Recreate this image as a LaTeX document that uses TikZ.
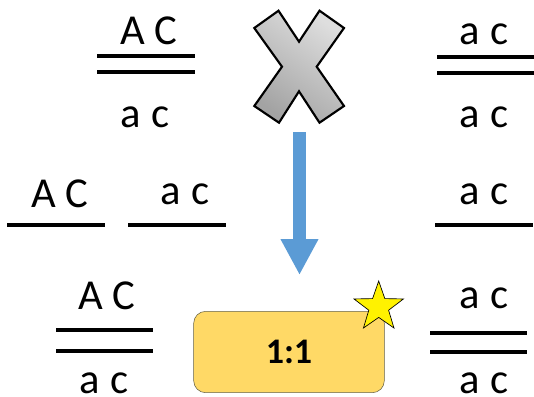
\documentclass[tikz,border=0pt]{standalone}
\usepackage{fontspec}
\setmainfont{Carlito}
\usetikzlibrary{arrows.meta,shapes.geometric}
\definecolor{lightgray}{HTML}{DEDEDE}
\definecolor{darkgray}{HTML}{A3A3A3}
\definecolor{arrowblue}{HTML}{5B9BD5}
\definecolor{boxyellow}{HTML}{FFD966}

\begin{document}
\begin{tikzpicture}[
    x=0.75pt, y=-0.75pt,
    allele/.style={inner sep=0pt, font=\fontsize{32}{32}\selectfont},
    bar/.style={line width=2.8pt, color=black},
    cross/.style={draw=black, line width=1.6pt, line join=miter, top color=lightgray,
                  bottom color=darkgray, shading angle=-35},
    result/.style={rectangle, rounded corners=9pt, draw=black!70!yellow, fill=boxyellow,
                   minimum width=143pt, minimum height=61pt, inner sep=0pt,
                   font=\fontsize{27}{27}\selectfont\bfseries},
    arr/.style={-{Triangle[length=27pt, width=26.5pt]}, line width=9.5pt, color=arrowblue}
  ]
    \useasboundingbox (0,0) rectangle (534,396);

    % top row
    \node[allele] (topA)  at (149,31)  {A C};
    \node[allele] (topa)  at (145,117) {a c};
    \node[allele] (topb)  at (484,34)  {a c};
    \node[allele] (topc)  at (484,117) {a c};
    \draw[bar] (97,56) -- (195,56);
    \draw[bar] (97,72) -- (195,72);
    \draw[bar] (437,57) -- (534,57);
    \draw[bar] (437,73) -- (534,73);

    % cross sign
    \path[cross] (278.5,10.7) -- (299,41.7) -- (319.5,10.7) -- (344,28) -- (316.7,66.7)
      -- (344,106) -- (319.5,122.7) -- (299,91.3) -- (279,122.7) -- (254.3,106)
      -- (282,66.7) -- (254.3,28) -- cycle;

    % middle row
    \node[allele] (midA) at (60,194)  {A C};
    \node[allele] (mida) at (185,194) {a c};
    \node[allele] (midb) at (484,194) {a c};
    \draw[bar] (7,225) -- (105,225);
    \draw[bar] (128,225) -- (226,225);
    \draw[bar] (435,225) -- (533,225);

    % arrow
    \coordinate (from) at (299.5,132);
    \coordinate (to) at (299.5,275);
    \draw[arr] (from) -- (to);

    % bottom row
    \node[allele] (botA) at (107,296) {A C};
    \node[allele] (bota) at (104,383) {a c};
    \node[allele] (botb) at (484,298) {a c};
    \node[allele] (botc) at (484,383) {a c};
    \draw[bar] (56,330) -- (153,330);
    \draw[bar] (56,351) -- (153,351);
    \draw[bar] (430,333) -- (527,333);
    \draw[bar] (430,352) -- (527,352);

    \node[result] (ratio) at (289,352) {1:1};
    \node[star, star points=5, star point ratio=2.5, draw=black, fill=yellow, line width=0.5pt,
          minimum size=39pt, inner sep=0pt] (mark) at (378.7,307) {};
  \end{tikzpicture}
\end{document}
